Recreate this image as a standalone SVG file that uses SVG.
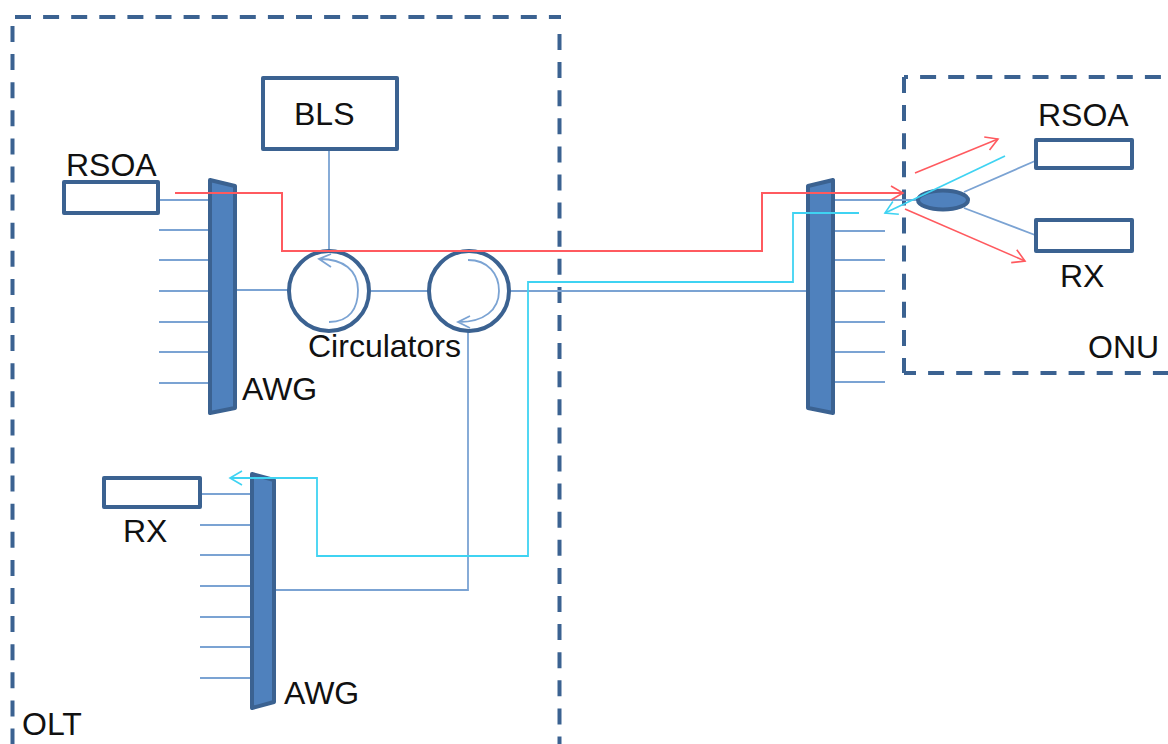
<svg xmlns="http://www.w3.org/2000/svg" width="1168" height="744" viewBox="0 0 1168 744">
<defs>
<marker id="aR" markerUnits="userSpaceOnUse" markerWidth="18" markerHeight="18" refX="14" refY="8" orient="auto"><path d="M2,1 L14,8 L2,15" fill="none" stroke="#ff5a5f" stroke-width="1.6"/></marker>
<marker id="aC" markerUnits="userSpaceOnUse" markerWidth="18" markerHeight="18" refX="14" refY="8" orient="auto"><path d="M2,1 L14,8 L2,15" fill="none" stroke="#3fd3f2" stroke-width="1.6"/></marker>
</defs>
<style>
.dash{fill:none;stroke:#3b6291;stroke-width:4;stroke-dasharray:16 12.1}
.box{fill:#fff;stroke:#3b6291;stroke-width:4;stroke-linejoin:round}
.awg{fill:#4f81bd;stroke:#3b6291;stroke-width:4;stroke-linejoin:round}
.circ{fill:#fff;stroke:#3b6291;stroke-width:4}
.t{fill:none;stroke:#7ba3d3;stroke-width:1.8}
.red{fill:none;stroke:#ff5a5f;stroke-width:2}
.red2{fill:none;stroke:#ff5a5f;stroke-width:1.5}
.cy{fill:none;stroke:#3fd3f2;stroke-width:1.8}
text{font-family:"Liberation Sans",Arial,sans-serif;font-size:32px;fill:#111}
</style>
<g id="OLT"><path class="dash" d="M15,17 H561"/><path class="dash" d="M559.5,34 V744"/><path class="dash" d="M12.5,26 V744"/><text x="22" y="735">OLT</text></g>
<g id="ONU"><path class="dash" d="M904,77 H1168" stroke-dashoffset="12"/><path class="dash" d="M904,373 H1168" stroke-dashoffset="4"/><path class="dash" d="M904,77 V373"/><text x="1088" y="358">ONU</text></g>
<g id="connectors">
<path class="t" d="M329,149 V251"/>
<path class="t" d="M160,200 H209 M159,230 H209 M159,260 H209 M159,291 H209 M159,322 H209 M159,352 H209 M159,383 H209"/>
<path class="t" d="M236,290 H288 M371,291 H428 M510,291 H807"/>
<path class="t" d="M468,331 V590 H276"/>
<path class="t" d="M202,494 H250 M200,525 H250 M200,555 H250 M200,586 H250 M200,617 H250 M200,647 H250 M200,678 H250"/>
<path class="t" d="M834,200 H918 M834,231 H885 M834,260 H885 M834,291 H885 M834,322 H885 M834,352 H885 M834,382 H885"/>
<path class="t" d="M964,192 L1035,161 M964,208 L1035,235"/>
</g>
<g id="awg1"><path class="awg" d="M210,180 L235,186 V408 L210,413 Z"/><text x="242" y="400">AWG</text></g>
<g id="awg2"><path class="awg" d="M252,474 L274,480 V702 L252,708 Z"/><text x="284" y="704">AWG</text></g>
<g id="awg3"><path class="awg" d="M808,186 L833,180 V413 L808,408 Z"/></g>
<g id="bls"><rect class="box" x="263" y="78" width="134" height="71"/><text x="294" y="125">BLS</text></g>
<g id="rsoa1"><rect class="box" x="64" y="182" width="94" height="31"/><text x="66" y="176">RSOA</text></g>
<g id="rx1"><rect class="box" x="104" y="478" width="96" height="29"/><text x="123" y="542">RX</text></g>
<g id="rsoa2"><rect class="box" x="1036" y="140" width="96" height="28"/><text x="1038" y="126">RSOA</text></g>
<g id="rx2"><rect class="box" x="1036" y="220" width="96" height="31"/><text x="1060" y="287">RX</text></g>
<g id="coupler"><ellipse cx="943" cy="200" rx="25" ry="9.5" fill="#4f81bd" stroke="#3b6291" stroke-width="4"/></g>
<g id="circ1"><circle class="circ" cx="329" cy="291" r="40"/><path class="t" d="M329,322 C350,322 358,308 358,290 C358,270 343,259 320,259 M331,254 L319,259 L331,267"/></g>
<g id="circ2"><circle class="circ" cx="469" cy="291" r="40"/><path class="t" d="M468,260 C488,260 499,274 499,291 C499,310 484,322 459,322 M470,316 L458,322 L470,328"/></g>
<text x="308" y="357">Circulators</text>
<g id="signals">
<path class="red" d="M175,193 H282 V251 H762 V193 H903" marker-end="url(#aR)"/>
<path class="red2" d="M915,173 L998,139" marker-end="url(#aR)"/>
<path class="red2" d="M905,209 L1025,261" marker-end="url(#aR)"/>
<path class="cy" d="M1005,156 L885,213" marker-end="url(#aC)"/>
<path class="cy" d="M859,213 H793 V282 H528 V556 H317 V478 H230" marker-end="url(#aC)"/>
</g>
</svg>
